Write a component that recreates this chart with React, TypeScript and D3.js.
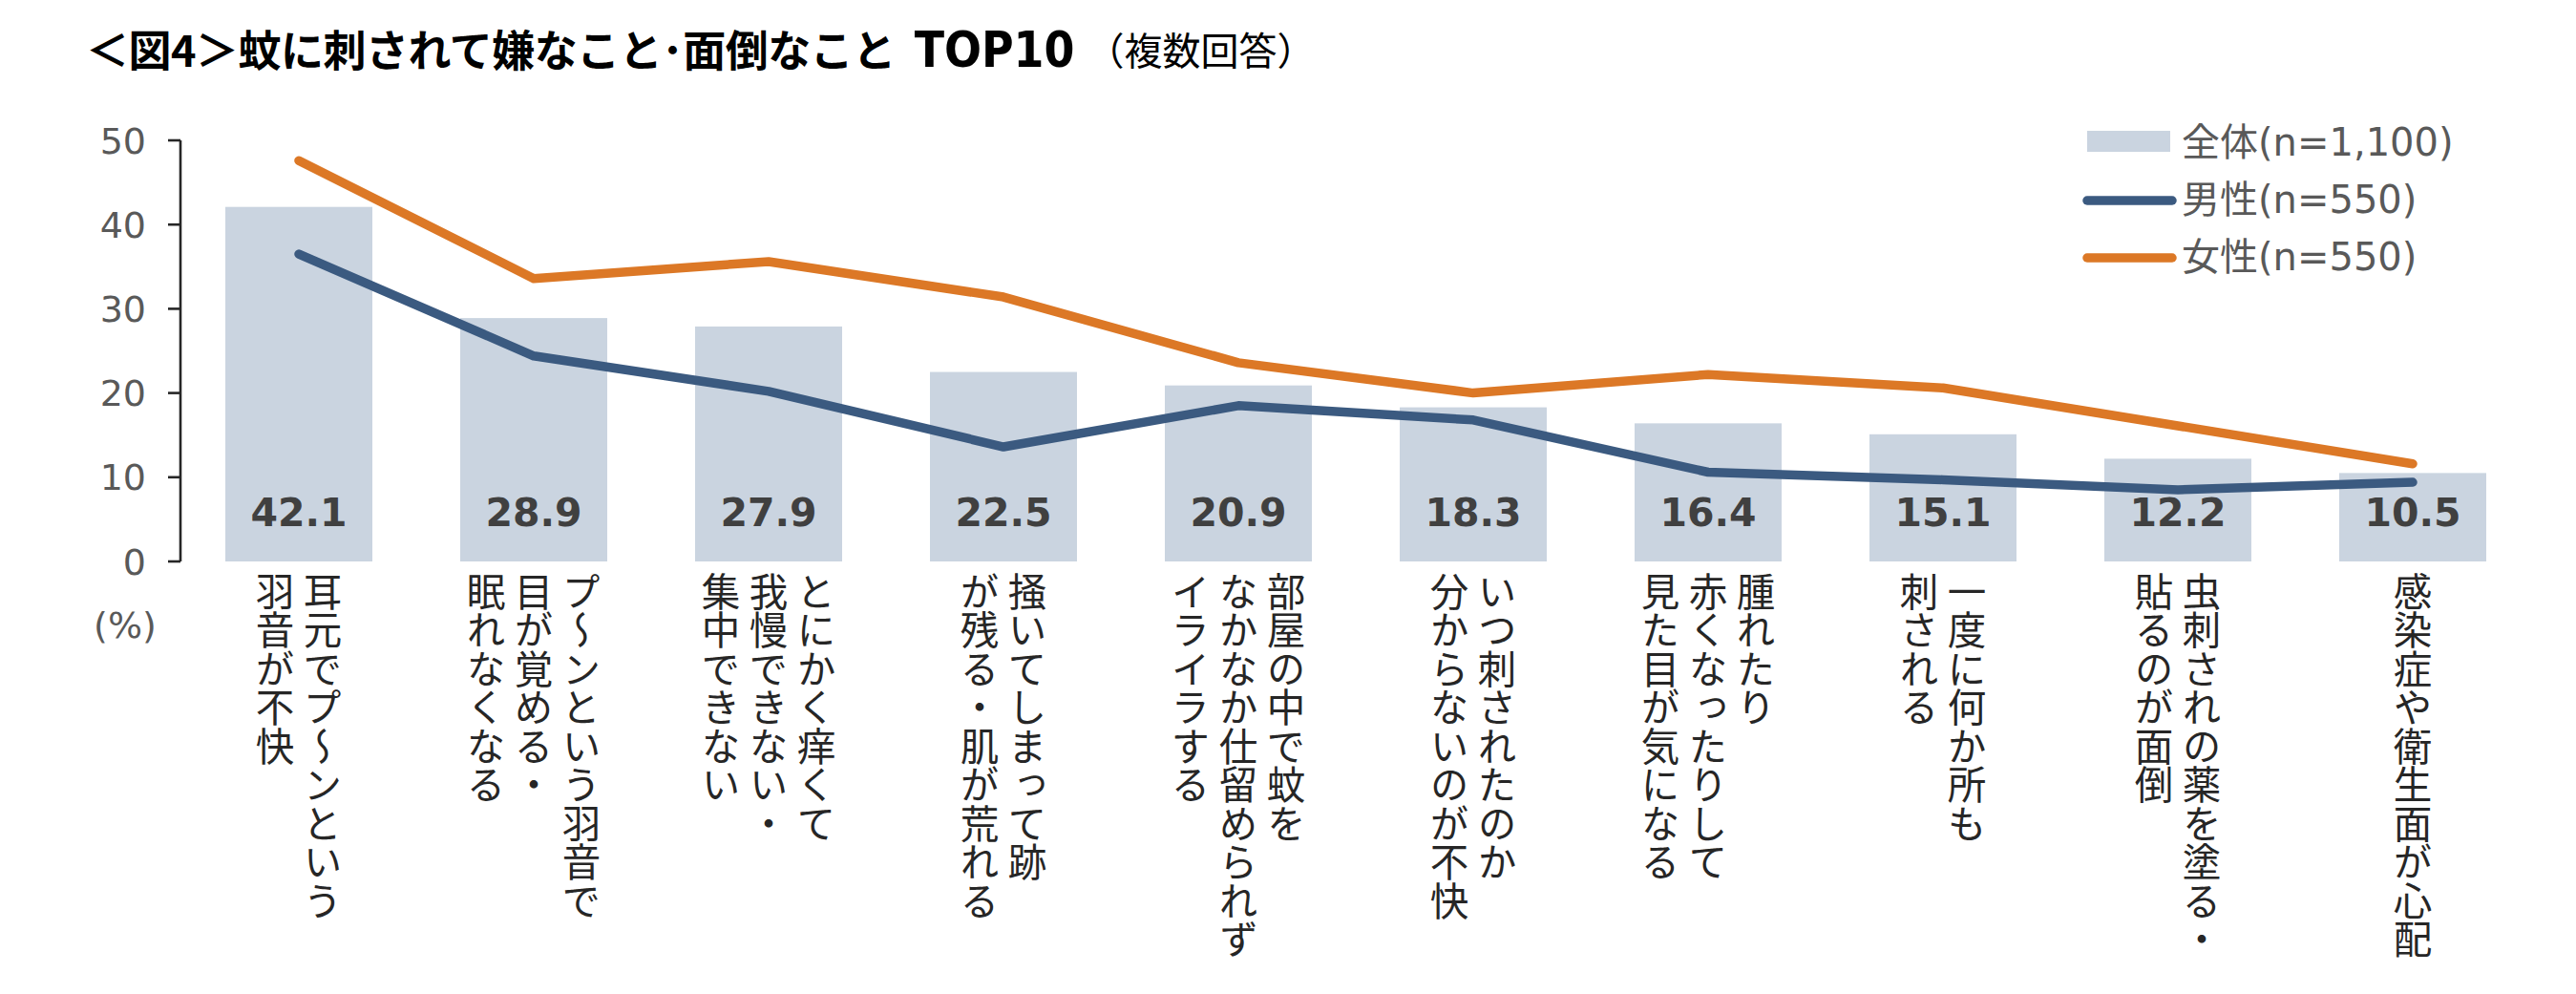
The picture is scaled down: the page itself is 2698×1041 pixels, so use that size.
import React, { useEffect, useRef } from 'react';
import * as d3 from 'd3';

// 蚊に刺されて嫌なこと・面倒なこと TOP10 (%)
const categories = [
  ['耳元でプ〜ンという', '羽音が不快'],
  ['プ〜ンという羽音で', '目が覚める・', '眠れなくなる'],
  ['とにかく痒くて', '我慢できない・', '集中できない'],
  ['掻いてしまって跡', 'が残る・肌が荒れる'],
  ['部屋の中で蚊を', 'なかなか仕留められず', 'イライラする'],
  ['いつ刺されたのか', '分からないのが不快'],
  ['腫れたり', '赤くなったりして', '見た目が気になる'],
  ['一度に何か所も', '刺される'],
  ['虫刺されの薬を塗る・', '貼るのが面倒'],
  ['感染症や衛生面が心配'],
];
const total = [42.1, 28.9, 27.9, 22.5, 20.9, 18.3, 16.4, 15.1, 12.2, 10.5];
const male = [36.5, 24.4, 20.2, 13.6, 18.5, 16.8, 10.6, 9.7, 8.5, 9.4];
const female = [47.6, 33.6, 35.6, 31.4, 23.6, 20.0, 22.2, 20.6, 16.1, 11.6];
const yTicks = [0, 10, 20, 30, 40, 50];
const legendLabels = ['全体(n=1,100)', '男性(n=550)', '女性(n=550)'];

const W = 2698;
const H = 1041;
const BAR = '#cad4e0';
const BLUE = '#3b5a80';
const ORANGE = '#dc7826';
const LATIN = '"DejaVu Sans", "Noto Sans CJK JP", sans-serif';
const CJK = '"Noto Sans CJK JP", sans-serif';

export default function App() {
  const svgRef = useRef<SVGSVGElement>(null);

  useEffect(() => {
    if (!svgRef.current) return;
    document.body.style.margin = '0';
    const svg = d3.select(svgRef.current);
    svg.selectAll('*').remove();

    const idx = categories.map((_, i) => i);
    const x = d3.scaleBand<number>()
      .domain(idx)
      .range([190, 2650])
      .paddingInner(0.374)
      .paddingOuter(0.187);
    const y = d3.scaleLinear().domain([0, 50]).range([588, 147]);
    const cx = (i: number) => (x(i) as number) + x.bandwidth() / 2;

    // title: japanese run, TOP10, note
    const title = svg.append('text')
      .attr('x', 90).attr('y', 70)
      .attr('fill', '#000');
    title.append('tspan')
      .attr('font-family', CJK)
      .attr('font-size', 45)
      .attr('font-weight', 700)
      .attr('letter-spacing', -0.5)
      .text('＜図4＞蚊に刺されて嫌なこと･面倒なこと');
    title.append('tspan')
      .attr('dx', 20)
      .attr('font-family', '"DejaVu Sans Condensed", "DejaVu Sans", sans-serif')
      .attr('font-stretch', 'condensed')
      .attr('font-size', 51)
      .attr('font-weight', 700)
      .text('TOP10');
    title.append('tspan')
      .attr('dx', 12)
      .attr('dy', -2)
      .attr('font-family', CJK)
      .attr('font-size', 40)
      .text('（複数回答）');

    // bars
    svg.append('g').selectAll('rect')
      .data(total)
      .enter()
      .append('rect')
      .attr('x', (_, i) => x(i) as number)
      .attr('y', d => y(d))
      .attr('width', x.bandwidth())
      .attr('height', d => y(0) - y(d))
      .attr('fill', BAR);

    // bar values
    svg.append('g').selectAll('text')
      .data(total)
      .enter()
      .append('text')
      .attr('x', (_, i) => cx(i))
      .attr('y', y(0) - 37)
      .attr('text-anchor', 'middle')
      .attr('font-family', LATIN)
      .attr('font-weight', 700)
      .attr('font-size', 41)
      .attr('fill', '#404040')
      .text(d => d.toFixed(1));

    // y axis
    const axis = svg.append('g').attr('stroke', '#262626').attr('stroke-width', 2.6);
    axis.append('line')
      .attr('x1', 189).attr('x2', 189)
      .attr('y1', y(50)).attr('y2', y(0));
    axis.selectAll('.tick')
      .data(yTicks)
      .enter()
      .append('line')
      .attr('x1', 176).attr('x2', 189)
      .attr('y1', d => y(d)).attr('y2', d => y(d));
    svg.append('g').selectAll('text')
      .data(yTicks)
      .enter()
      .append('text')
      .attr('x', 153)
      .attr('y', d => y(d))
      .attr('dy', '0.36em')
      .attr('text-anchor', 'end')
      .attr('font-family', LATIN)
      .attr('font-size', 38)
      .attr('fill', '#595959')
      .text(d => d);
    svg.append('text')
      .attr('x', 131)
      .attr('y', 654)
      .attr('dy', '0.36em')
      .attr('text-anchor', 'middle')
      .attr('font-family', LATIN)
      .attr('font-size', 38)
      .attr('fill', '#595959')
      .text('(%)');

    // lines
    const line = d3.line<number>()
      .x((_, i) => cx(i))
      .y(d => y(d));
    [[male, BLUE], [female, ORANGE]].forEach(([vals, color]) => {
      svg.append('path')
        .attr('d', line(vals as number[]))
        .attr('fill', 'none')
        .attr('stroke', color as string)
        .attr('stroke-width', 9.5)
        .attr('stroke-linecap', 'round')
        .attr('stroke-linejoin', 'round');
    });

    // category labels, vertical, first line on the right
    const colGap = 50;
    categories.forEach((lines, i) => {
      const n = lines.length;
      lines.forEach((s, j) => {
        svg.append('text')
          .attr('x', cx(i) + ((n - 1) / 2 - j) * colGap)
          .attr('y', 599)
          .attr('font-family', CJK)
          .attr('font-size', 40.5)
          .attr('fill', '#262626')
          .style('writing-mode', 'vertical-rl')
          .text(s);
      });
    });

    // legend
    const lg = svg.append('g');
    lg.append('rect')
      .attr('x', 2186).attr('y', 137)
      .attr('width', 87).attr('height', 22)
      .attr('fill', BAR);
    [BLUE, ORANGE].forEach((c, k) => {
      lg.append('line')
        .attr('x1', 2186).attr('x2', 2275)
        .attr('y1', 210 + k * 60).attr('y2', 210 + k * 60)
        .attr('stroke', c)
        .attr('stroke-width', 9.5)
        .attr('stroke-linecap', 'round');
    });
    lg.selectAll('text')
      .data(legendLabels)
      .enter()
      .append('text')
      .attr('x', 2285)
      .attr('y', (_, k) => 149 + k * 60)
      .attr('dy', '0.36em')
      .attr('font-family', LATIN)
      .attr('font-size', 40)
      .attr('fill', '#595959')
      .text(d => d);
  }, []);

  return (
    <div style={{ position: 'absolute', left: 0, top: 0, background: '#fff' }}>
      <svg ref={svgRef} width={W} height={H} style={{ display: 'block' }} />
    </div>
  );
}
